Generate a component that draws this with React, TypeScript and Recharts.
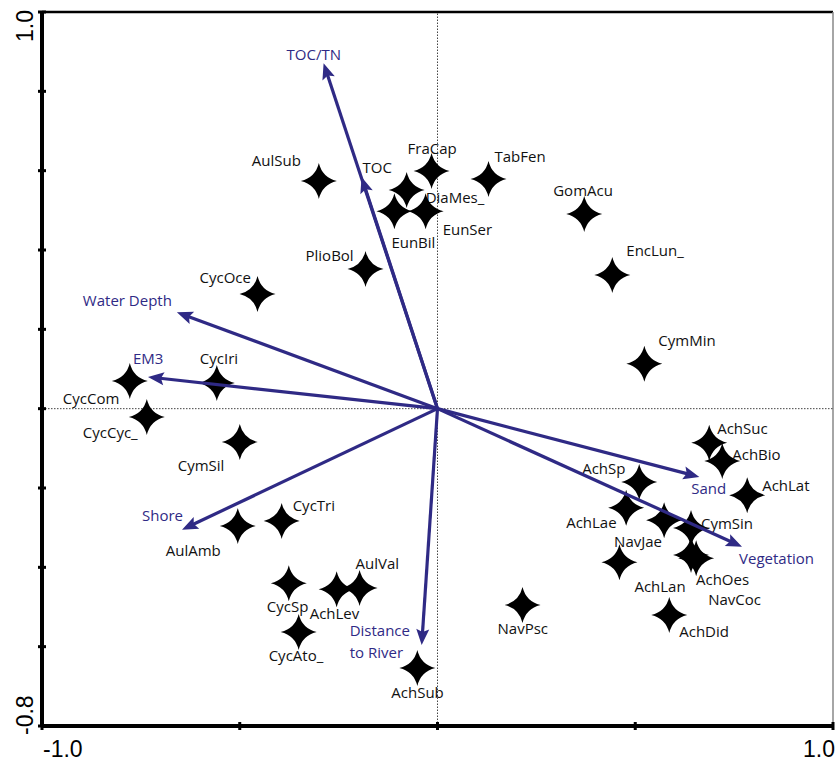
import { ScatterChart, Scatter, XAxis, YAxis, ReferenceLine } from 'recharts'

// species scores (axis 1, axis 2)
const speciesNames = [
  'AulSub', 'FraCap', 'TabFen', 'DiaMes_', 'EunBil', 'EunSer', 'GomAcu', 'EncLun_',
  'PlioBol', 'CycOce', 'CymMin', 'CycIri', 'CycCom', 'CycCyc_', 'CymSil', 'AulAmb',
  'CycTri', 'CycSp', 'AchLev', 'AulVal', 'CycAto_', 'AchSub', 'NavPsc', 'AchSuc',
  'AchBio', 'AchLat', 'AchSp', 'AchLae', 'NavJae', 'CymSin', 'AchOes', 'NavCoc',
  'AchLan', 'AchDid',
]
const speciesAxis1 = [
  -0.300, -0.015, 0.129, -0.078, -0.109, -0.030, 0.371, 0.442,
  -0.182, -0.455, 0.523, -0.558, -0.778, -0.735, -0.500, -0.505,
  -0.394, -0.376, -0.255, -0.197, -0.351, -0.051, 0.215, 0.687,
  0.720, 0.783, 0.510, 0.477, 0.573, 0.641, 0.641, 0.654,
  0.460, 0.586,
]
const speciesAxis2 = [
  0.574, 0.599, 0.579, 0.551, 0.498, 0.498, 0.491, 0.337,
  0.352, 0.289, 0.113, 0.065, 0.070, -0.021, -0.084, -0.296,
  -0.283, -0.440, -0.455, -0.452, -0.563, -0.654, -0.495, -0.086,
  -0.132, -0.218, -0.185, -0.250, -0.281, -0.301, -0.369, -0.377,
  -0.387, -0.520,
]

// environmental variables (arrow tips)
const envNames = ['TOC/TN', 'TOC', 'Water Depth', 'EM3', 'Shore', 'Distance\nto River', 'Sand', 'Vegetation']
const envAxis1 = [-0.288, -0.192, -0.659, -0.732, -0.646, -0.040, 0.662, 0.770]
const envAxis2 = [0.871, 0.584, 0.243, 0.080, -0.305, -0.596, -0.172, -0.348]

const xTicks = [-1, -0.5, 0, 0.5, 1]
const yTicks = [-0.8, -0.6, -0.4, -0.2, 0, 0.2, 0.4, 0.6, 0.8, 1]

const species = speciesNames.map((name, i) => ({ name, x: speciesAxis1[i], y: speciesAxis2[i] }))

// label placement relative to the symbol, px
const speciesLabelOffset: Record<string, [number, number]> = {
  AulSub: [-67, -15], FraCap: [-24, -17], TabFen: [6, -17], DiaMes_: [19, 13],
  EunBil: [-3, 37], EunSer: [17, 24], GomAcu: [-31, -18], EncLun_: [14, -19],
  PlioBol: [-60, -8], CycOce: [-58, -11], CymMin: [14, -18], CycIri: [-17, -19],
  CycCom: [-67, 23], CycCyc_: [-64, 21], CymSil: [-62, 29], AulAmb: [-72, 30],
  CycTri: [11, -10], CycSp: [-22, 29], AchLev: [-27, 30], AulVal: [-4, -19],
  CycAto_: [-30, 29], AchSub: [-26, 30], NavPsc: [-25, 29], AchSuc: [8, -9],
  AchBio: [10, -1], AchLat: [15, -4], AchSp: [-57, -8], AchLae: [-60, 20],
  NavJae: [-50, 27], CymSin: [10, 1], AchOes: [5, 30], NavCoc: [12, 47],
  AchLan: [15, 30], AchDid: [10, 22],
}
const envLabelOffset: Record<string, [number, number]> = {
  'TOC/TN': [-37, -3], TOC: [1, -4], 'Water Depth': [-94, -6], EM3: [-15, -13],
  Shore: [-40, -9], 'Distance\nto River': [-72, -9], Sand: [-8, 17], Vegetation: [-3, 17],
}

const ARROW = '#2f2a85'
const FONT = "'Open Sans', sans-serif"
const TICK_FONT = "'Liberation Sans', Arial, sans-serif"

const starPath = 'M0,-18 Q3.5,-3.5 18,0 Q3.5,3.5 0,18 Q-3.5,3.5 -18,0 Q-3.5,-3.5 0,-18Z'

function Star(props: any) {
  const { cx, cy, payload } = props
  const off = speciesLabelOffset[payload.name] || [8, -8]
  return (
    <g>
      <path d={starPath} transform={`translate(${cx},${cy})`} fill="#000" />
      <text x={cx + off[0]} y={cy + off[1]} fontFamily={FONT} fontSize={15} fill="#111">
        {payload.name}
      </text>
    </g>
  )
}

function makeArrow(name: string) {
  return (p: any) => {
    const { x1, y1, x2, y2 } = p
    const dx = x2 - x1
    const dy = y2 - y1
    const len = Math.hypot(dx, dy)
    const ux = dx / len
    const uy = dy / len
    const hl = 16
    const hw = 6.5
    const bx = x2 - ux * hl
    const by = y2 - uy * hl
    const pts = [
      `${x2},${y2}`,
      `${bx - uy * hw},${by + ux * hw}`,
      `${bx + ux * 3},${by + uy * 3}`,
      `${bx + uy * hw},${by - ux * hw}`,
    ].join(' ')
    const off = envLabelOffset[name]
    const lines = name.split('\n')
    // the TOC label is printed in black in the original figure
    const labelColor = name === 'TOC' ? '#111' : ARROW
    return (
      <g>
        <line x1={x1} y1={y1} x2={bx + ux * 4} y2={by + uy * 4} stroke={ARROW} strokeWidth={3.2} />
        <polygon points={pts} fill={ARROW} />
        {lines.map((t, i) => (
          <text key={t} x={x2 + off[0]} y={y2 + off[1] + i * 22} fontFamily={FONT} fontSize={15} fill={labelColor}>
            {t}
          </text>
        ))}
      </g>
    )
  }
}

function YTick(props: any) {
  const { x, y, payload } = props
  const v = payload.value
  return (
    <g>
      <rect x={x - 4} y={y - 1.5} width={8} height={3} fill="#000" />
      {v === 1 && (
        <text transform={`translate(${x - 9},${y - 2}) rotate(-90)`} textAnchor="end" fontFamily={TICK_FONT} fontSize={23} fill="#000">
          1.0
        </text>
      )}
      {v === -0.8 && (
        <text transform={`translate(${x - 9},${y + 9}) rotate(-90)`} textAnchor="start" fontFamily={TICK_FONT} fontSize={23} fill="#000">
          -0.8
        </text>
      )}
    </g>
  )
}

function XTick(props: any) {
  const { x, y, payload } = props
  const v = payload.value
  return (
    <g>
      <rect x={x - 1.5} y={y - 4} width={3} height={8} fill="#000" />
      {v === -1 && (
        <text x={x + 1} y={y + 31} textAnchor="start" fontFamily={TICK_FONT} fontSize={23} fill="#000">
          -1.0
        </text>
      )}
      {v === 1 && (
        <text x={x + 2} y={y + 31} textAnchor="end" fontFamily={TICK_FONT} fontSize={23} fill="#000">
          1.0
        </text>
      )}
    </g>
  )
}

export default function App() {
  return (
    <div style={{ position: 'absolute', left: 0, top: 0, background: '#fff' }}>
      <ScatterChart width={835} height={762} margin={{ top: 12, right: 2, bottom: 0, left: 0 }}>
        <XAxis
          type="number"
          dataKey="x"
          domain={[-1, 1]}
          ticks={xTicks}
          interval={0}
          height={36}
          tickSize={0}
          tickMargin={0}
          tickLine={false}
          tick={<XTick />}
          axisLine={{ stroke: '#000', strokeWidth: 4 }}
        />
        <YAxis
          type="number"
          dataKey="y"
          domain={[-0.8, 1]}
          ticks={yTicks}
          interval={0}
          width={42}
          tickSize={0}
          tickMargin={0}
          tickLine={false}
          tick={<YTick />}
          axisLine={{ stroke: '#000', strokeWidth: 4 }}
        />
        <ReferenceLine y={1} stroke="#000" strokeWidth={2.5} />
        <ReferenceLine x={1} stroke="#888" strokeWidth={1.5} />
        <ReferenceLine x={0} stroke="#444" strokeWidth={1} strokeDasharray="1.5 1.5" />
        <ReferenceLine y={0} stroke="#444" strokeWidth={1} strokeDasharray="1.5 1.5" />
        <Scatter data={species} shape={<Star />} isAnimationActive={false} />
        {envNames.map((name, i) => (
          <ReferenceLine
            key={name}
            segment={[{ x: 0, y: 0 }, { x: envAxis1[i], y: envAxis2[i] }]}
            shape={makeArrow(name)}
            zIndex={700}
          />
        ))}
      </ScatterChart>
    </div>
  )
}
